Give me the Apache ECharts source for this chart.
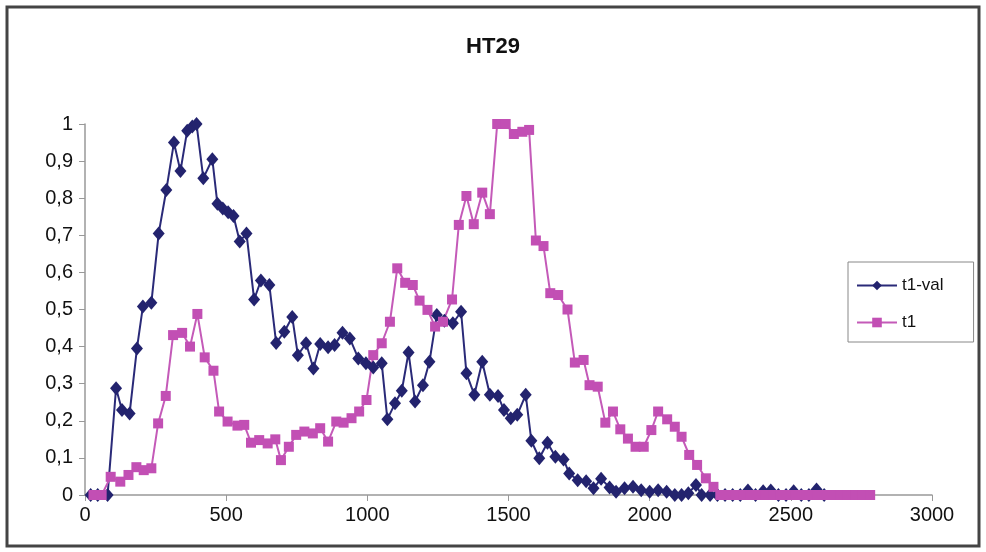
<!DOCTYPE html>
<html>
<head>
<meta charset="utf-8">
<title>HT29</title>
<script src="https://cdn.jsdelivr.net/npm/echarts@6/dist/echarts.min.js"></script>
<style>
  html, body { margin: 0; padding: 0; background: #fff; }
  #chart { width: 986px; height: 552px; }
</style>
</head>
<body>
<div id="chart"></div>
<script>
// t1-val (blue diamonds)
var t1ValX = [20, 45, 80, 110, 131, 158, 184, 205, 235, 261, 288, 315, 338, 362, 380, 395, 419, 451,
  469, 488, 507, 526, 548, 572, 599, 623, 653, 677, 706, 734, 754, 783, 809, 833, 861, 884, 912, 938,
  968, 995, 1021, 1051, 1071, 1098, 1122, 1146, 1169, 1197, 1220, 1246, 1273, 1303, 1332, 1351, 1379,
  1407, 1434, 1463, 1484, 1508, 1531, 1561, 1581, 1609, 1638, 1666, 1695, 1715, 1745, 1775, 1801, 1828,
  1858, 1881, 1911, 1941, 1970, 2000, 2030, 2060, 2089, 2113, 2137, 2164, 2184, 2214, 2240, 2267, 2294,
  2321, 2348, 2375, 2402, 2429, 2456, 2483, 2510, 2537, 2564, 2591, 2618];
var t1ValY = [0, 0, 0, 0.288, 0.229, 0.22, 0.395, 0.508, 0.518, 0.705, 0.822, 0.95, 0.873, 0.982, 0.993, 1.0, 0.854, 0.905,
  0.785, 0.772, 0.762, 0.752, 0.683, 0.705, 0.527, 0.578, 0.566, 0.41, 0.44, 0.48, 0.377, 0.409, 0.341, 0.407, 0.398, 0.404, 0.437, 0.422,
  0.368, 0.355, 0.344, 0.355, 0.204, 0.247, 0.281, 0.384, 0.252, 0.296, 0.359, 0.485, 0.47, 0.463, 0.494, 0.328, 0.27,
  0.359, 0.27, 0.267, 0.229, 0.207, 0.216, 0.27, 0.146, 0.099, 0.141, 0.103, 0.096, 0.058, 0.04, 0.037, 0.018, 0.044,
  0.02, 0.009, 0.018, 0.022, 0.013, 0.009, 0.013, 0.009, 0, 0, 0.005, 0.027, 0, 0, 0, 0, 0,
  0, 0.012, 0, 0.01, 0.012, 0, 0, 0.01, 0, 0, 0.015, 0];

// t1 (magenta squares)
var t1X = [30, 59, 91, 125, 154, 182, 208, 235, 259, 286, 312, 344, 372, 398, 424, 455, 475, 505, 540,
  564, 588, 617, 647, 674, 694, 722, 748, 777, 807, 833, 861, 890, 916, 944, 971, 997, 1021, 1051, 1080,
  1106, 1134, 1161, 1185, 1213, 1240, 1268, 1300, 1324, 1351, 1377, 1407, 1434, 1460, 1490, 1519, 1549,
  1573, 1597, 1624, 1648, 1676, 1709, 1735, 1766, 1787, 1816, 1843, 1870, 1896, 1923, 1950, 1979, 2006,
  2030, 2062, 2089, 2113, 2140, 2168, 2199, 2226, 2250, 2277, 2304, 2331, 2357, 2384, 2410, 2437, 2463,
  2490, 2516, 2543, 2569, 2596, 2622, 2649, 2675, 2702, 2728, 2755, 2781];
var t1Y = [0, 0, 0.049, 0.036, 0.054, 0.075, 0.067, 0.072, 0.193, 0.267, 0.431, 0.437, 0.4, 0.488, 0.371, 0.335, 0.225, 0.198, 0.187,
  0.189, 0.141, 0.148, 0.139, 0.15, 0.094, 0.13, 0.162, 0.171, 0.166, 0.18, 0.144, 0.198, 0.195, 0.207, 0.225, 0.256, 0.377, 0.409, 0.467,
  0.611, 0.572, 0.566, 0.524, 0.499, 0.454, 0.467, 0.527, 0.728, 0.806, 0.73, 0.815, 0.757, 1.0, 1.0, 0.973, 0.979,
  0.984, 0.686, 0.671, 0.544, 0.539, 0.5, 0.357, 0.364, 0.296, 0.292, 0.195, 0.225, 0.177, 0.152, 0.13, 0.13, 0.175,
  0.225, 0.204, 0.184, 0.157, 0.108, 0.081, 0.045, 0.022, 0, 0, 0, 0, 0, 0, 0, 0, 0,
  0, 0, 0, 0, 0, 0, 0, 0, 0, 0, 0, 0];

var xTicks = { min: 0, max: 3000, interval: 500 };
var yTicks = { min: 0, max: 1, interval: 0.1 };

function pairs(xs, ys) {
  return xs.map(function (x, i) { return [x, ys[i]]; });
}

var chart = echarts.init(document.getElementById('chart'));
var labelFont = { color: '#111', fontSize: 20, fontFamily: 'Liberation Sans, Arial, sans-serif' };

chart.setOption({
  backgroundColor: '#fff',
  animation: false,
  title: {
    text: 'HT29',
    left: 'center',
    top: 31,
    textStyle: { fontSize: 22, fontWeight: 'bold', color: '#111', fontFamily: 'Liberation Sans, Arial, sans-serif' }
  },
  graphic: [{
    type: 'rect',
    shape: { x: 7, y: 7, width: 972, height: 539 },
    style: { fill: 'none', stroke: '#444', lineWidth: 3 },
    silent: true
  }],
  legend: {
    orient: 'vertical',
    left: 848,
    top: 262,
    padding: [15, 30, 11, 8],
    itemGap: 20,
    itemWidth: 40,
    itemHeight: 12,
    borderColor: '#888',
    borderWidth: 1,
    textStyle: { color: '#111', fontSize: 17, fontFamily: 'Liberation Sans, Arial, sans-serif' },
    data: ['t1-val', 't1']
  },
  grid: { left: 85, right: 54, top: 124, bottom: 57 },
  xAxis: {
    type: 'value',
    min: xTicks.min,
    max: xTicks.max,
    interval: xTicks.interval,
    axisLine: { lineStyle: { color: '#999', width: 1.5 } },
    axisTick: { show: true, length: 6, lineStyle: { color: '#999' } },
    axisLabel: Object.assign({
      margin: 10,
      formatter: function (v) { return String(v); }
    }, labelFont),
    splitLine: { show: false }
  },
  yAxis: {
    type: 'value',
    min: yTicks.min,
    max: yTicks.max,
    interval: yTicks.interval,
    axisLine: { show: true, lineStyle: { color: '#999', width: 1.5 } },
    axisTick: { show: true, length: 6, lineStyle: { color: '#999' } },
    axisLabel: Object.assign({
      margin: 12,
      formatter: function (v) { return String(Math.round(v * 10) / 10).replace('.', ','); }
    }, labelFont),
    splitLine: { show: false }
  },
  series: [
    {
      name: 't1-val',
      type: 'line',
      data: pairs(t1ValX, t1ValY),
      symbol: 'diamond',
      symbolSize: [12, 14],
      showAllSymbol: true,
      color: '#23236e',
      lineStyle: { width: 2, color: '#2a2a78' },
      itemStyle: { color: '#23236e' }
    },
    {
      name: 't1',
      type: 'line',
      data: pairs(t1X, t1Y),
      symbol: 'rect',
      symbolSize: 10,
      showAllSymbol: true,
      color: '#c24fb4',
      lineStyle: { width: 2, color: '#c45ab8' },
      itemStyle: { color: '#c24fb4' }
    }
  ]
});
</script>
</body>
</html>
